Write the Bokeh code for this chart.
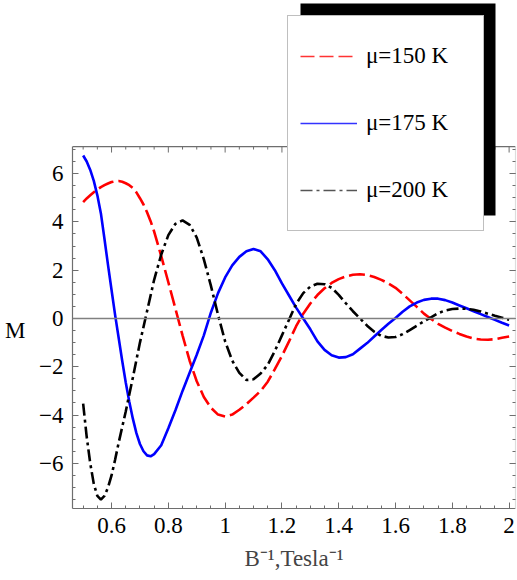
from bokeh.plotting import figure
from bokeh.models import (Range1d, FixedTicker, LinearAxis, Span, Legend, LegendItem,
                          BoxAnnotation)
from bokeh.embed import file_html
from bokeh.resources import INLINE

# ---------------- data ----------------
inv_b = [0.5000, 0.5125, 0.5250, 0.5375, 0.5500, 0.5625, 0.5750, 0.5875, 0.6000,
         0.6125, 0.6250, 0.6375, 0.6500, 0.6625, 0.6750, 0.6875, 0.7000, 0.7125,
         0.7250, 0.7375, 0.7500,
         0.775, 0.800, 0.825, 0.850, 0.875, 0.900, 0.925, 0.950, 0.975,
         1.000, 1.025, 1.050, 1.075, 1.100, 1.125, 1.150, 1.175, 1.200, 1.225,
         1.250, 1.275, 1.300, 1.325, 1.350, 1.375, 1.400, 1.425, 1.450, 1.475,
         1.500, 1.525, 1.550, 1.575, 1.600, 1.625, 1.650, 1.675, 1.700, 1.725,
         1.750, 1.775, 1.800, 1.825, 1.850, 1.875, 1.900, 1.925, 1.950, 1.975,
         2.000]

m_150 = [4.82, 4.97, 5.10, 5.23, 5.34, 5.44, 5.52, 5.59, 5.65,
         5.68, 5.69, 5.66, 5.60, 5.52, 5.40, 5.22, 4.98, 4.72,
         4.40, 4.03, 3.60,
         2.58, 1.50, 0.40, -0.70, -1.75, -2.60, -3.25, -3.70, -3.98,
         -4.06, -3.98, -3.78, -3.55, -3.28, -3.00, -2.62, -2.10, -1.55, -0.95,
         -0.32, 0.20, 0.62, 0.97, 1.25, 1.47, 1.63, 1.74, 1.81, 1.83,
         1.80, 1.72, 1.60, 1.45, 1.27, 1.02, 0.75, 0.48, 0.20, -0.02,
         -0.22, -0.38, -0.52, -0.64, -0.75, -0.83, -0.87, -0.88, -0.86, -0.80,
         -0.75]

m_175 = [6.75, 6.50, 6.15, 5.70, 5.10, 4.35, 3.30, 2.22, 1.18,
         0.15, -0.80, -1.75, -2.65, -3.45, -4.15, -4.75, -5.20, -5.50,
         -5.67, -5.71, -5.62,
         -5.25, -4.55, -3.80, -3.00, -2.25, -1.50, -0.70, 0.25, 1.05,
         1.70, 2.20, 2.55, 2.78, 2.88, 2.78, 2.45, 2.00, 1.45, 0.95,
         0.45, 0.00, -0.45, -0.95, -1.30, -1.52, -1.62, -1.60, -1.48, -1.25,
         -1.02, -0.75, -0.48, -0.22, 0.02, 0.28, 0.50, 0.66, 0.77, 0.82,
         0.82, 0.76, 0.66, 0.54, 0.42, 0.30, 0.18, 0.06, -0.06, -0.18,
         -0.29]

m_200 = [-3.53, -4.90, -6.00, -6.85, -7.35, -7.50, -7.35, -7.00, -6.50,
         -5.85, -5.15, -4.50, -3.85, -3.15, -2.45, -1.72, -1.00, -0.35,
         0.30, 0.95, 1.60,
         2.65, 3.45, 3.92, 4.06, 3.88, 3.35, 2.45, 1.35, 0.15,
         -0.95, -1.75, -2.25, -2.55, -2.52, -2.28, -1.92, -1.35, -0.70, -0.05,
         0.60, 1.05, 1.32, 1.44, 1.42, 1.27, 0.98, 0.63, 0.30, 0.00,
         -0.30, -0.55, -0.72, -0.79, -0.77, -0.65, -0.48, -0.30, -0.12, 0.05,
         0.22, 0.33, 0.39, 0.41, 0.40, 0.36, 0.29, 0.20, 0.11, 0.03,
         -0.05]

series_labels = ["μ=150 K", "μ=175 K", "μ=200 K"]
x_major = [0.6, 0.8, 1.0, 1.2, 1.4, 1.6, 1.8, 2.0]
x_major_labels = ["0.6", "0.8", "1", "1.2", "1.4", "1.6", "1.8", "2"]
x_minor = [round(0.5 + 0.05 * i, 2) for i in range(31)]
y_major = [-6, -4, -2, 0, 2, 4, 6]
y_major_labels = ["\u22126", "\u22124", "\u22122", "0", "2", "4", "6"]
y_minor = [-7.5 + 0.5 * i for i in range(30)]
x_title = "B\u207b\u00b9,Tesla\u207b\u00b9"
y_title = "M"
y_title_at = -0.5   # height (in M units) at which the y title sits

FONT = "Liberation Serif"
AX = "#6e6e6e"
Y_BOTTOM, Y_TOP = -7.87, 7.12          # box of the plot
PX_PER_UNIT = 508 / (13.168 + 7.87)

p = figure(width=517, height=580, output_backend="svg", toolbar_location=None,
           x_range=Range1d(0.4625, 2.0225), y_range=Range1d(Y_BOTTOM, 13.168),
           min_border_left=72, min_border_right=2, min_border_top=0,
           min_border_bottom=72, background_fill_color="white",
           border_fill_color="white", outline_line_color=None)
p.xgrid.visible = False
p.ygrid.visible = False


def style_axis(ax, ticks, minor, labels, show_labels):
    ax.ticker = FixedTicker(ticks=ticks, minor_ticks=minor)
    if show_labels:
        ax.major_label_overrides = {t: l for t, l in zip(ticks, labels)}
    else:
        ax.major_label_overrides = {t: "" for t in ticks}
    ax.major_label_text_font = FONT
    ax.major_label_text_font_size = "23px"
    ax.major_label_text_color = "black"
    ax.axis_line_color = AX
    ax.axis_line_width = 1.2
    ax.major_tick_line_color = AX
    ax.minor_tick_line_color = AX
    ax.major_tick_in = 6
    ax.major_tick_out = 0
    ax.minor_tick_in = 3
    ax.minor_tick_out = 0


xa = p.xaxis[0]
style_axis(xa, x_major, x_minor, x_major_labels, True)
xa.major_label_standoff = 9
xa.axis_label = x_title
xa.axis_label_text_font = FONT
xa.axis_label_text_font_size = "23px"
xa.axis_label_text_font_style = "normal"
xa.axis_label_standoff = 10

ya = p.yaxis[0]
style_axis(ya, y_major, y_minor, y_major_labels, True)
ya.major_label_standoff = 9
ya.bounds = (Y_BOTTOM, Y_TOP)

# y title, set beside the zero level as in the reference
ytitle_ax = LinearAxis(ticker=FixedTicker(ticks=[y_title_at], minor_ticks=[]),
                       major_label_overrides={y_title_at: y_title},
                       major_label_text_font=FONT, major_label_text_font_size="23px",
                       major_label_text_color="black", major_label_standoff=11,
                       axis_line_color=None, major_tick_line_color=None,
                       minor_tick_line_color=None, major_tick_in=0, major_tick_out=0,
                       minor_tick_in=0, minor_tick_out=0)
p.add_layout(ytitle_ax, "left")

right_ax = LinearAxis()
style_axis(right_ax, y_major, y_minor, y_major_labels, False)
right_ax.major_label_standoff = 0
right_ax.bounds = (Y_BOTTOM, Y_TOP)
right_ax.axis_line_color = "#dddddd"
p.add_layout(right_ax, "right")

# top edge of the box, with inward ticks
p.add_layout(Span(location=Y_TOP, dimension="width", line_color=AX, line_width=1.2))
tick_len = [(6 if t in x_major else 3) / PX_PER_UNIT for t in x_minor]
p.segment(x0=x_minor, y0=[Y_TOP] * len(x_minor), x1=x_minor,
          y1=[Y_TOP - d for d in tick_len], line_color=AX, line_width=1)

p.add_layout(Span(location=0, dimension="width", line_color="#808080", line_width=1.6))

p.line(inv_b, m_150, line_color="#ff0000", line_width=2.6, line_dash="16 5")
p.line(inv_b, m_175, line_color="#0000ff", line_width=2.6)
p.line(inv_b, m_200, line_color="black", line_width=2.6, line_dash="12 4 3 4")

# legend swatches (thin, as in the reference key); no visible data of their own
nan = float("nan")
k1 = p.line([nan], [nan], line_color="#ff3333", line_width=1.4, line_dash="14 5")
k2 = p.line([nan], [nan], line_color="#3333ff", line_width=1.4)
k3 = p.line([nan], [nan], line_color="#555555", line_width=1.4, line_dash="12 4 3 4")

shadow = BoxAnnotation(left=300, right=495, top=3, bottom=215,
                       left_units="canvas", right_units="canvas",
                       top_units="canvas", bottom_units="canvas",
                       fill_color="black", fill_alpha=1.0, line_color=None)
p.add_layout(shadow)

legend = Legend(items=[LegendItem(label=series_labels[0], renderers=[k1]),
                       LegendItem(label=series_labels[1], renderers=[k2]),
                       LegendItem(label=series_labels[2], renderers=[k3])],
                location=(215, 277), glyph_width=57, glyph_height=56,
                label_height=56, label_width=105, spacing=11, padding=12,
                margin=0, label_standoff=9, label_text_font=FONT,
                label_text_font_size="23px", label_text_color="black",
                border_line_color="#808080",
                border_line_width=1, background_fill_color="white",
                background_fill_alpha=1.0)
p.add_layout(legend)

open("out.html", "w").write(file_html(p, INLINE))
